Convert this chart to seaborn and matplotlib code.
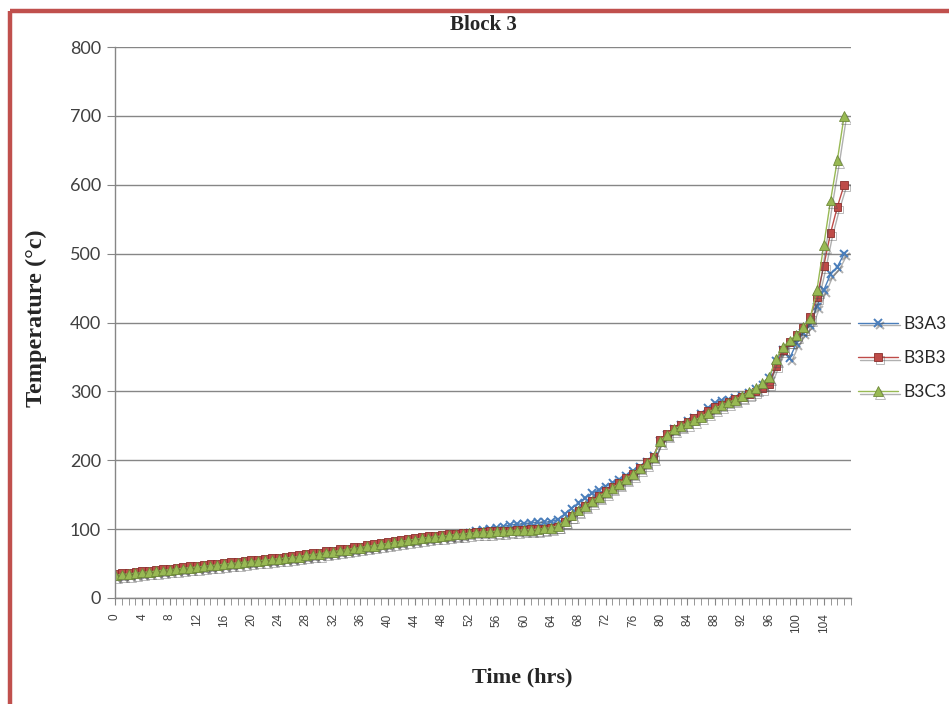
import numpy as np
import pandas as pd
import seaborn as sns
import matplotlib.pyplot as plt
import matplotlib.patheffects as pe
from matplotlib.lines import Line2D

# 時間 (hrs)
hours = list(range(108))

# 各測點溫度 (讀圖估計)
b3a3 = [32, 33, 34, 35, 36, 37, 38, 39, 40, 41,
        42, 43, 44, 45, 46, 47, 48, 49, 50, 51,
        52, 53, 54, 55, 56, 57, 58, 59, 61, 62,
        63, 65, 66, 68, 69, 71, 72, 74, 75, 77,
        78, 80, 81, 83, 84, 86, 87, 88, 89, 90,
        91, 93, 95, 97, 99, 100, 102, 104, 106, 107,
        108, 109, 110, 110, 111, 114, 122, 130, 138, 145,
        152, 157, 162, 167, 172, 178, 184, 191, 198, 206,
        228, 237, 245, 251, 257, 262, 268, 276, 283, 287,
        288, 290, 294, 298, 303, 310, 320, 345, 360, 348,
        370, 385, 396, 423, 447, 470, 481, 500]
b3b3 = [35, 36, 37, 38, 39, 40, 41, 42, 43, 44,
        45, 46, 47, 48, 49, 50, 51, 52, 53, 54,
        55, 56, 57, 58, 59, 60, 61, 62, 64, 65,
        66, 68, 69, 71, 72, 74, 75, 77, 78, 80,
        81, 83, 84, 86, 87, 89, 90, 91, 92, 93,
        93, 94, 95, 96, 96, 97, 97, 98, 98, 99,
        99, 100, 100, 101, 102, 104, 111, 119, 127, 134,
        141, 148, 155, 161, 167, 174, 181, 189, 197, 205,
        230, 238, 246, 251, 256, 261, 266, 272, 277, 281,
        285, 289, 292, 296, 300, 305, 311, 337, 360, 372,
        382, 392, 408, 437, 482, 530, 568, 600]
b3c3 = [33, 34, 35, 36, 37, 38, 39, 40, 41, 42,
        43, 44, 45, 46, 47, 48, 49, 50, 51, 52,
        53, 54, 55, 56, 57, 58, 59, 60, 62, 63,
        64, 66, 67, 69, 70, 72, 73, 75, 76, 78,
        79, 81, 82, 84, 85, 87, 88, 89, 90, 91,
        92, 93, 94, 95, 96, 96, 97, 97, 98, 98,
        99, 99, 100, 101, 102, 105, 112, 120, 127, 134,
        140, 147, 154, 160, 166, 173, 180, 188, 196, 204,
        228, 237, 245, 250, 254, 258, 263, 269, 275, 280,
        284, 288, 293, 299, 305, 312, 321, 347, 364, 374,
        382, 393, 406, 447, 512, 577, 636, 700]

series_names = ["B3A3", "B3B3", "B3C3"]
colors = ["#4a7ebb", "#be4b48", "#98b954"]
edge_colors = ["#4a7ebb", "#8a2f2c", "#6f8a3a"]
markers = ["x", "s", "^"]
msizes = [5.5, 5.5, 7]

df = pd.DataFrame({"hour": hours, "B3A3": b3a3, "B3B3": b3b3, "B3C3": b3c3})
long_df = df.melt(id_vars="hour", var_name="series", value_name="temp")

sns.set_style("white")
plt.rcParams['font.family'] = ['Lato', 'DejaVu Sans']

fig = plt.figure(figsize=(9.49, 7.04), dpi=100)
ax = fig.add_axes([115/949, 1 - 598/704, 736/949, 551/704])

shadow = [pe.SimpleLineShadow(offset=(1.5, -2), shadow_color='#505050', alpha=0.45), pe.Normal()]
for name, c, ec, m, ms in zip(series_names, colors, edge_colors, markers, msizes):
    sub = long_df[long_df["series"] == name]
    sns.lineplot(data=sub, x="hour", y="temp", ax=ax, color=c, lw=1,
                 marker=m, markersize=ms, markeredgecolor=ec,
                 markeredgewidth=1.4 if m == "x" else 0.6, label=name, legend=False,
                 path_effects=shadow)

ax.set_xlim(0, 108)
ax.set_ylim(0, 800)
ax.set_yticks(range(0, 801, 100))
ax.set_xticks(range(0, 105, 4))
ax.set_xticks(range(0, 109), minor=True)
ax.set_xticklabels([str(h) for h in range(0, 105, 4)], rotation=90,
                   family='Liberation Sans', fontsize=8.5, color='#404040')
ax.tick_params(axis='y', labelsize=13, labelcolor='#404040', length=6, color='#868686',
               direction='out', left=True, pad=4)
ax.tick_params(axis='x', which='both', length=5, color='#868686', direction='out', bottom=True, pad=6)
ax.yaxis.grid(True, color='#868686', lw=1)
ax.xaxis.grid(False)
for s in ['top', 'right']:
    ax.spines[s].set_visible(False)
for s in ['left', 'bottom']:
    ax.spines[s].set_color('#868686')
    ax.spines[s].set_linewidth(1)
ax.set_xlabel("")
ax.set_ylabel("")

# 標題與軸標籤
fig.text(483/949, 1 - 25/704, "Block 3", ha='center', va='center',
         family='Liberation Serif', fontweight='bold', fontsize=15)
fig.text(522/949, 1 - 677/704, "Time (hrs)", ha='center', va='center',
         family='Liberation Serif', fontweight='bold', fontsize=16)
fig.text(36/949, 1 - 318/704, "Temperature (\u00b0c)", ha='center', va='center', rotation=90,
         family='Liberation Serif', fontweight='bold', fontsize=17.5)

# 圖例
handles, labels = ax.get_legend_handles_labels()
fig.legend(handles, labels, loc='center left', bbox_to_anchor=(858/949, 1 - 358/704),
           frameon=False, fontsize=12.5, handlelength=2.3, handletextpad=0.3,
           labelspacing=1.05, borderpad=0, borderaxespad=0)

# 外框
fig.add_artist(Line2D([10/949, 10/949], [-0.01, 1 - 11/704], transform=fig.transFigure,
                      color='#c0504d', lw=3.2, solid_capstyle='butt'))
fig.add_artist(Line2D([10/949, 1.01], [1 - 11/704, 1 - 11/704], transform=fig.transFigure,
                      color='#c0504d', lw=3.2, solid_capstyle='butt'))

fig.savefig("out.png", dpi=100)
